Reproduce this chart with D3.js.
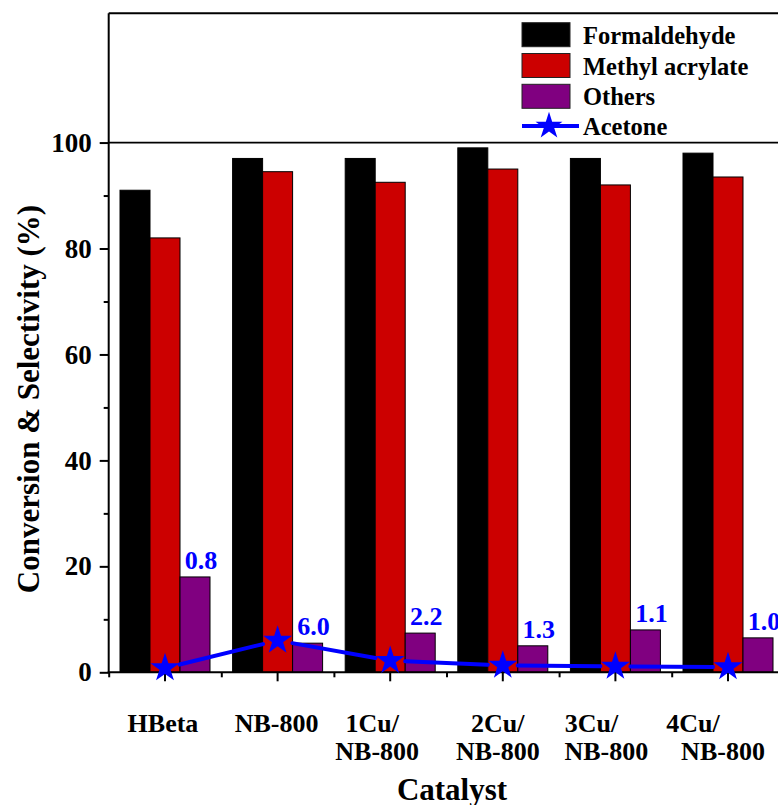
<!DOCTYPE html>
<html><head><meta charset="utf-8">
<script src="https://cdn.jsdelivr.net/npm/d3@7/dist/d3.min.js"></script>
<style>
html,body{margin:0;padding:0;background:#fff;}
</style></head>
<body>
<svg id="chart" width="778" height="805"></svg>
<script>
// ---- data ----
const categories = ["HBeta", "NB-800", "1Cu/NB-800", "2Cu/NB-800", "3Cu/NB-800", "4Cu/NB-800"];
const categoryLines = [["HBeta"], ["NB-800"], ["1Cu/", "NB-800"], ["2Cu/", "NB-800"], ["3Cu/", "NB-800"], ["4Cu/", "NB-800"]];
const seriesNames = ["Formaldehyde", "Methyl acrylate", "Others"];
const formaldehyde = [91, 97, 97, 99, 97, 98];
const methylAcrylate = [82, 94.5, 92.5, 95, 92, 93.5];
const others = [18, 5.5, 7.4, 5, 8, 6.5];
const acetone = [0.8, 6.0, 2.2, 1.3, 1.1, 1.0];
const acetoneLabels = ["0.8", "6.0", "2.2", "1.3", "1.1", "1.0"];
const yTicks = [0, 20, 40, 60, 80, 100];
const yMinorTicks = [10, 30, 50, 70, 90];
const seriesColors = ["#000000", "#cc0000", "#800080"];
const lineColor = "#0000ff";
const xTitle = "Catalyst";
const yTitle = "Conversion & Selectivity (%)";
// label horizontal nudges as in the original figure (line1, line2)
const labelNudge = [[-2], [-1], [-18, -13], [-5, -5], [-24, -9], [-35, -5]];

const seriesValues = [formaldehyde, methylAcrylate, others];
const FONT = "Liberation Serif";

// ---- layout ----
const svg = d3.select("#chart");
const pLeft = 108.7, pRight = 784.3, pTop = 13.3, pBottom = 672.3;

const x0 = d3.scaleBand().domain(categories).range([pLeft, pRight]).padding(0);
const x1 = d3.scaleBand().domain(seriesNames)
  .range([(x0.bandwidth() - 90) / 2, (x0.bandwidth() + 90) / 2]).padding(0);
const y = d3.scaleLinear().domain([0, 124.4]).range([pBottom, pTop]);
const cx = c => x0(c) + x0.bandwidth() / 2;

function txt(sel) {
  return sel.attr("font-family", FONT).attr("font-weight", "bold");
}

// bars
categories.forEach((c, i) => {
  seriesNames.forEach((s, j) => {
    const v = seriesValues[j][i];
    svg.append("rect")
      .attr("x", x0(c) + x1(s))
      .attr("y", y(v))
      .attr("width", x1.bandwidth())
      .attr("height", y(0) - y(v))
      .attr("fill", seriesColors[j])
      .attr("stroke", "#000")
      .attr("stroke-width", 1);
  });
});

// frame: top line, 100 line
svg.append("line").attr("x1", pLeft).attr("x2", 778).attr("y1", pTop).attr("y2", pTop)
  .attr("stroke", "#000").attr("stroke-width", 2);
svg.append("line").attr("x1", pLeft).attr("x2", 778).attr("y1", y(100)).attr("y2", y(100))
  .attr("stroke", "#000").attr("stroke-width", 1.8);

// y axis
const yAxis = svg.append("g").attr("transform", `translate(${pLeft},0)`)
  .call(d3.axisLeft(y).tickValues(yTicks).tickSize(9).tickPadding(8).tickSizeOuter(0));
yAxis.attr("font-family", FONT).attr("font-weight", "bold").attr("font-size", 27);
yAxis.select(".domain").remove();
yAxis.selectAll(".tick line").attr("stroke-width", 2);
txt(yAxis.selectAll("text")).attr("font-size", 27).attr("fill", "#000");
const yMinor = svg.append("g").attr("transform", `translate(${pLeft},0)`)
  .call(d3.axisLeft(y).tickValues(yMinorTicks).tickSize(5).tickFormat(""));
yMinor.select(".domain").remove();
yMinor.selectAll(".tick line").attr("stroke-width", 2);
svg.append("line").attr("x1", pLeft).attr("x2", pLeft).attr("y1", pTop).attr("y2", pBottom + 1)
  .attr("stroke", "#000").attr("stroke-width", 2);

// x axis
const xLin = d3.scaleLinear().domain([0, categories.length]).range([pLeft, pRight]);
const xAxis = svg.append("g").attr("transform", `translate(0,${pBottom})`)
  .call(d3.axisBottom(x0).tickSize(9).tickFormat("").tickSizeOuter(0));
xAxis.select(".domain").remove();
xAxis.selectAll(".tick line").attr("stroke-width", 2);
const xMinor = svg.append("g").attr("transform", `translate(0,${pBottom})`)
  .call(d3.axisBottom(xLin).tickValues(d3.range(0, categories.length + 1)).tickSize(5).tickFormat(""));
xMinor.select(".domain").remove();
xMinor.selectAll(".tick line").attr("stroke-width", 2);
svg.append("line").attr("x1", pLeft - 1).attr("x2", 778).attr("y1", pBottom).attr("y2", pBottom)
  .attr("stroke", "#000").attr("stroke-width", 2);

// x tick labels
categories.forEach((c, i) => {
  categoryLines[i].forEach((ln, k) => {
    txt(svg.append("text")).attr("x", cx(c) + labelNudge[i][k]).attr("y", 732 + k * 28)
      .attr("text-anchor", "middle").attr("font-size", 26).attr("fill", "#000").text(ln);
  });
});

// axis titles
txt(svg.append("text")).attr("x", 452).attr("y", 800).attr("text-anchor", "middle")
  .attr("font-size", 31).attr("fill", "#000").text(xTitle);
txt(svg.append("text")).attr("transform", `translate(39,399) rotate(-90)`).attr("text-anchor", "middle")
  .attr("font-size", 31).attr("fill", "#000").text(yTitle);

// acetone line with gaps around symbols
const pts = categories.map((c, i) => [cx(c), y(acetone[i])]);
const gap = 15;
for (let i = 0; i < pts.length - 1; i++) {
  const [xa, ya] = pts[i], [xb, yb] = pts[i + 1];
  const d = Math.hypot(xb - xa, yb - ya);
  const ux = (xb - xa) / d, uy = (yb - ya) / d;
  svg.append("line")
    .attr("x1", xa + ux * gap).attr("y1", ya + uy * gap)
    .attr("x2", xb - ux * gap).attr("y2", yb - uy * gap)
    .attr("stroke", lineColor).attr("stroke-width", 4).attr("stroke-linecap", "round");
}
const star = d3.symbol(d3.symbolStar).size(260);
pts.forEach(p => {
  svg.append("path").attr("d", star()).attr("transform", `translate(${p[0]},${p[1]})`)
    .attr("fill", lineColor);
});

// value labels above "Others" bars
categories.forEach((c, i) => {
  const bx = x0(c) + x1("Others") + x1.bandwidth() / 2;
  txt(svg.append("text")).attr("x", bx + 6).attr("y", y(others[i]) - 8)
    .attr("text-anchor", "middle").attr("font-size", 26).attr("fill", lineColor)
    .text(acetoneLabels[i]);
});

// legend
const legX = 522, legTextX = 583;
seriesNames.forEach((s, j) => {
  const yy = 22.7 + j * 30.8;
  svg.append("rect").attr("x", legX).attr("y", yy).attr("width", 48).attr("height", 24)
    .attr("fill", seriesColors[j]).attr("stroke", "#222").attr("stroke-width", 1);
  txt(svg.append("text")).attr("x", legTextX).attr("y", yy + 21).attr("font-size", 24.5)
    .attr("fill", "#000").text(s);
});
const ly = 126;
svg.append("line").attr("x1", legX).attr("x2", 579).attr("y1", ly).attr("y2", ly)
  .attr("stroke", lineColor).attr("stroke-width", 4);
svg.append("path").attr("d", d3.symbol(d3.symbolStar).size(225)()).attr("transform", `translate(549,${ly})`)
  .attr("fill", lineColor);
txt(svg.append("text")).attr("x", legTextX).attr("y", 135).attr("font-size", 24.5).attr("fill", "#000").text("Acetone");
</script>
</body></html>
